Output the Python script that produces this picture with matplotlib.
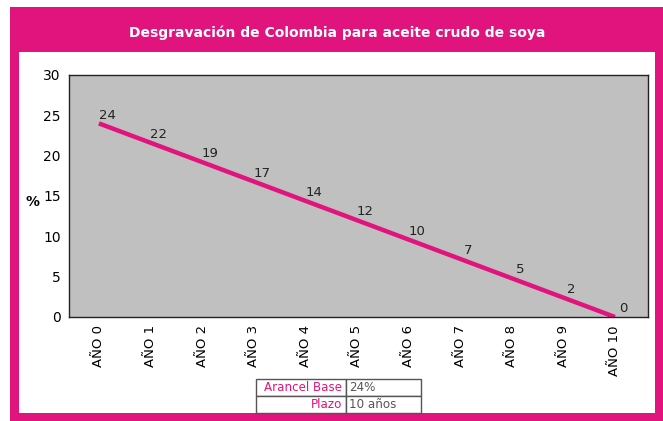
import matplotlib
matplotlib.use("Agg")
import matplotlib.pyplot as plt
from matplotlib.patches import Rectangle

years = ["AÑO 0", "AÑO 1", "AÑO 2", "AÑO 3", "AÑO 4", "AÑO 5",
         "AÑO 6", "AÑO 7", "AÑO 8", "AÑO 9", "AÑO 10"]
arancel = [24, 21.6, 19.2, 16.8, 14.4, 12, 9.6, 7.2, 4.8, 2.4, 0]
etiquetas = ["24", "22", "19", "17", "14", "12", "10", "7", "5", "2", "0"]
tabla_keys = ["Arancel Base", "Plazo"]
tabla_vals = ["24%", "10 años"]

magenta = "#E0147C"
W, H = 663, 421

fig = plt.figure(figsize=(W / 100, H / 100), dpi=100)
plt.rcParams['font.family'] = ['DejaVu Sans']

def px_rect(x0, y0, x1, y1, **kw):
    # rectangle given in pixel coords from the top-left
    return Rectangle((x0 / W, 1 - y1 / H), (x1 - x0) / W, (y1 - y0) / H,
                     transform=fig.transFigure, **kw)

fig.add_artist(px_rect(10, 7, 663, 421, facecolor=magenta, edgecolor="none", zorder=0))
fig.add_artist(px_rect(19, 52, 655, 413, facecolor="white", edgecolor="none", zorder=0))
fig.text(337 / W, 1 - 33 / H, "Desgravación de Colombia para aceite crudo de soya",
         color="white", fontsize=10, fontweight="heavy", ha="center", va="center")

ax = fig.add_axes([69 / W, 1 - 317 / H, (648 - 69) / W, (317 - 75) / H])
ax.set_facecolor("#C0C0C0")
x = list(range(len(years)))
ax.plot(x, arancel, color=magenta, lw=3.2, solid_capstyle="butt")
for xi, yi, lab in zip(x, arancel, etiquetas):
    ax.annotate(lab, (xi, yi), xytext=(6, 6), textcoords="offset points",
                ha="center", va="center", fontsize=9.5, color="#222222")

ax.set_xlim(-0.58, 10.64)
ax.set_ylim(0, 30)
ax.set_yticks([0, 5, 10, 15, 20, 25, 30])
ax.set_xticks(x)
ax.set_xticklabels(years, rotation=90, fontsize=9.5, va="top")
ax.tick_params(axis="y", length=0, labelsize=10, pad=6)
ax.tick_params(axis="x", length=0, pad=6)
for s in ax.spines.values():
    s.set_color("#222222")
    s.set_linewidth(1)
fig.text(32 / W, 1 - 202 / H, "%", fontsize=10, fontweight="bold", ha="center", va="center")

# small table under the chart
y_top = (317 - 379) / 242
y_bot = (317 - 413) / 242
x0 = (256 - 69) / 579
x1 = (421 - 69) / 579
tab = ax.table(cellText=[[k, v] for k, v in zip(tabla_keys, tabla_vals)],
               bbox=[x0, y_bot, x1 - x0, y_top - y_bot],
               colWidths=[90, 75], cellLoc="left")
tab.auto_set_font_size(False)
for (r, c), cell in tab.get_celld().items():
    cell.set_edgecolor("#555555")
    cell.set_linewidth(1)
    cell.set_facecolor("white")
    t = cell.get_text()
    t.set_fontsize(8.6)
    if c == 0:
        t.set_color(magenta)
        t.set_ha("right")
        cell._loc = "right"
    else:
        t.set_color("#555555")
        cell._loc = "left"
    cell.PAD = 0.04

fig.savefig("out.png", dpi=100)
